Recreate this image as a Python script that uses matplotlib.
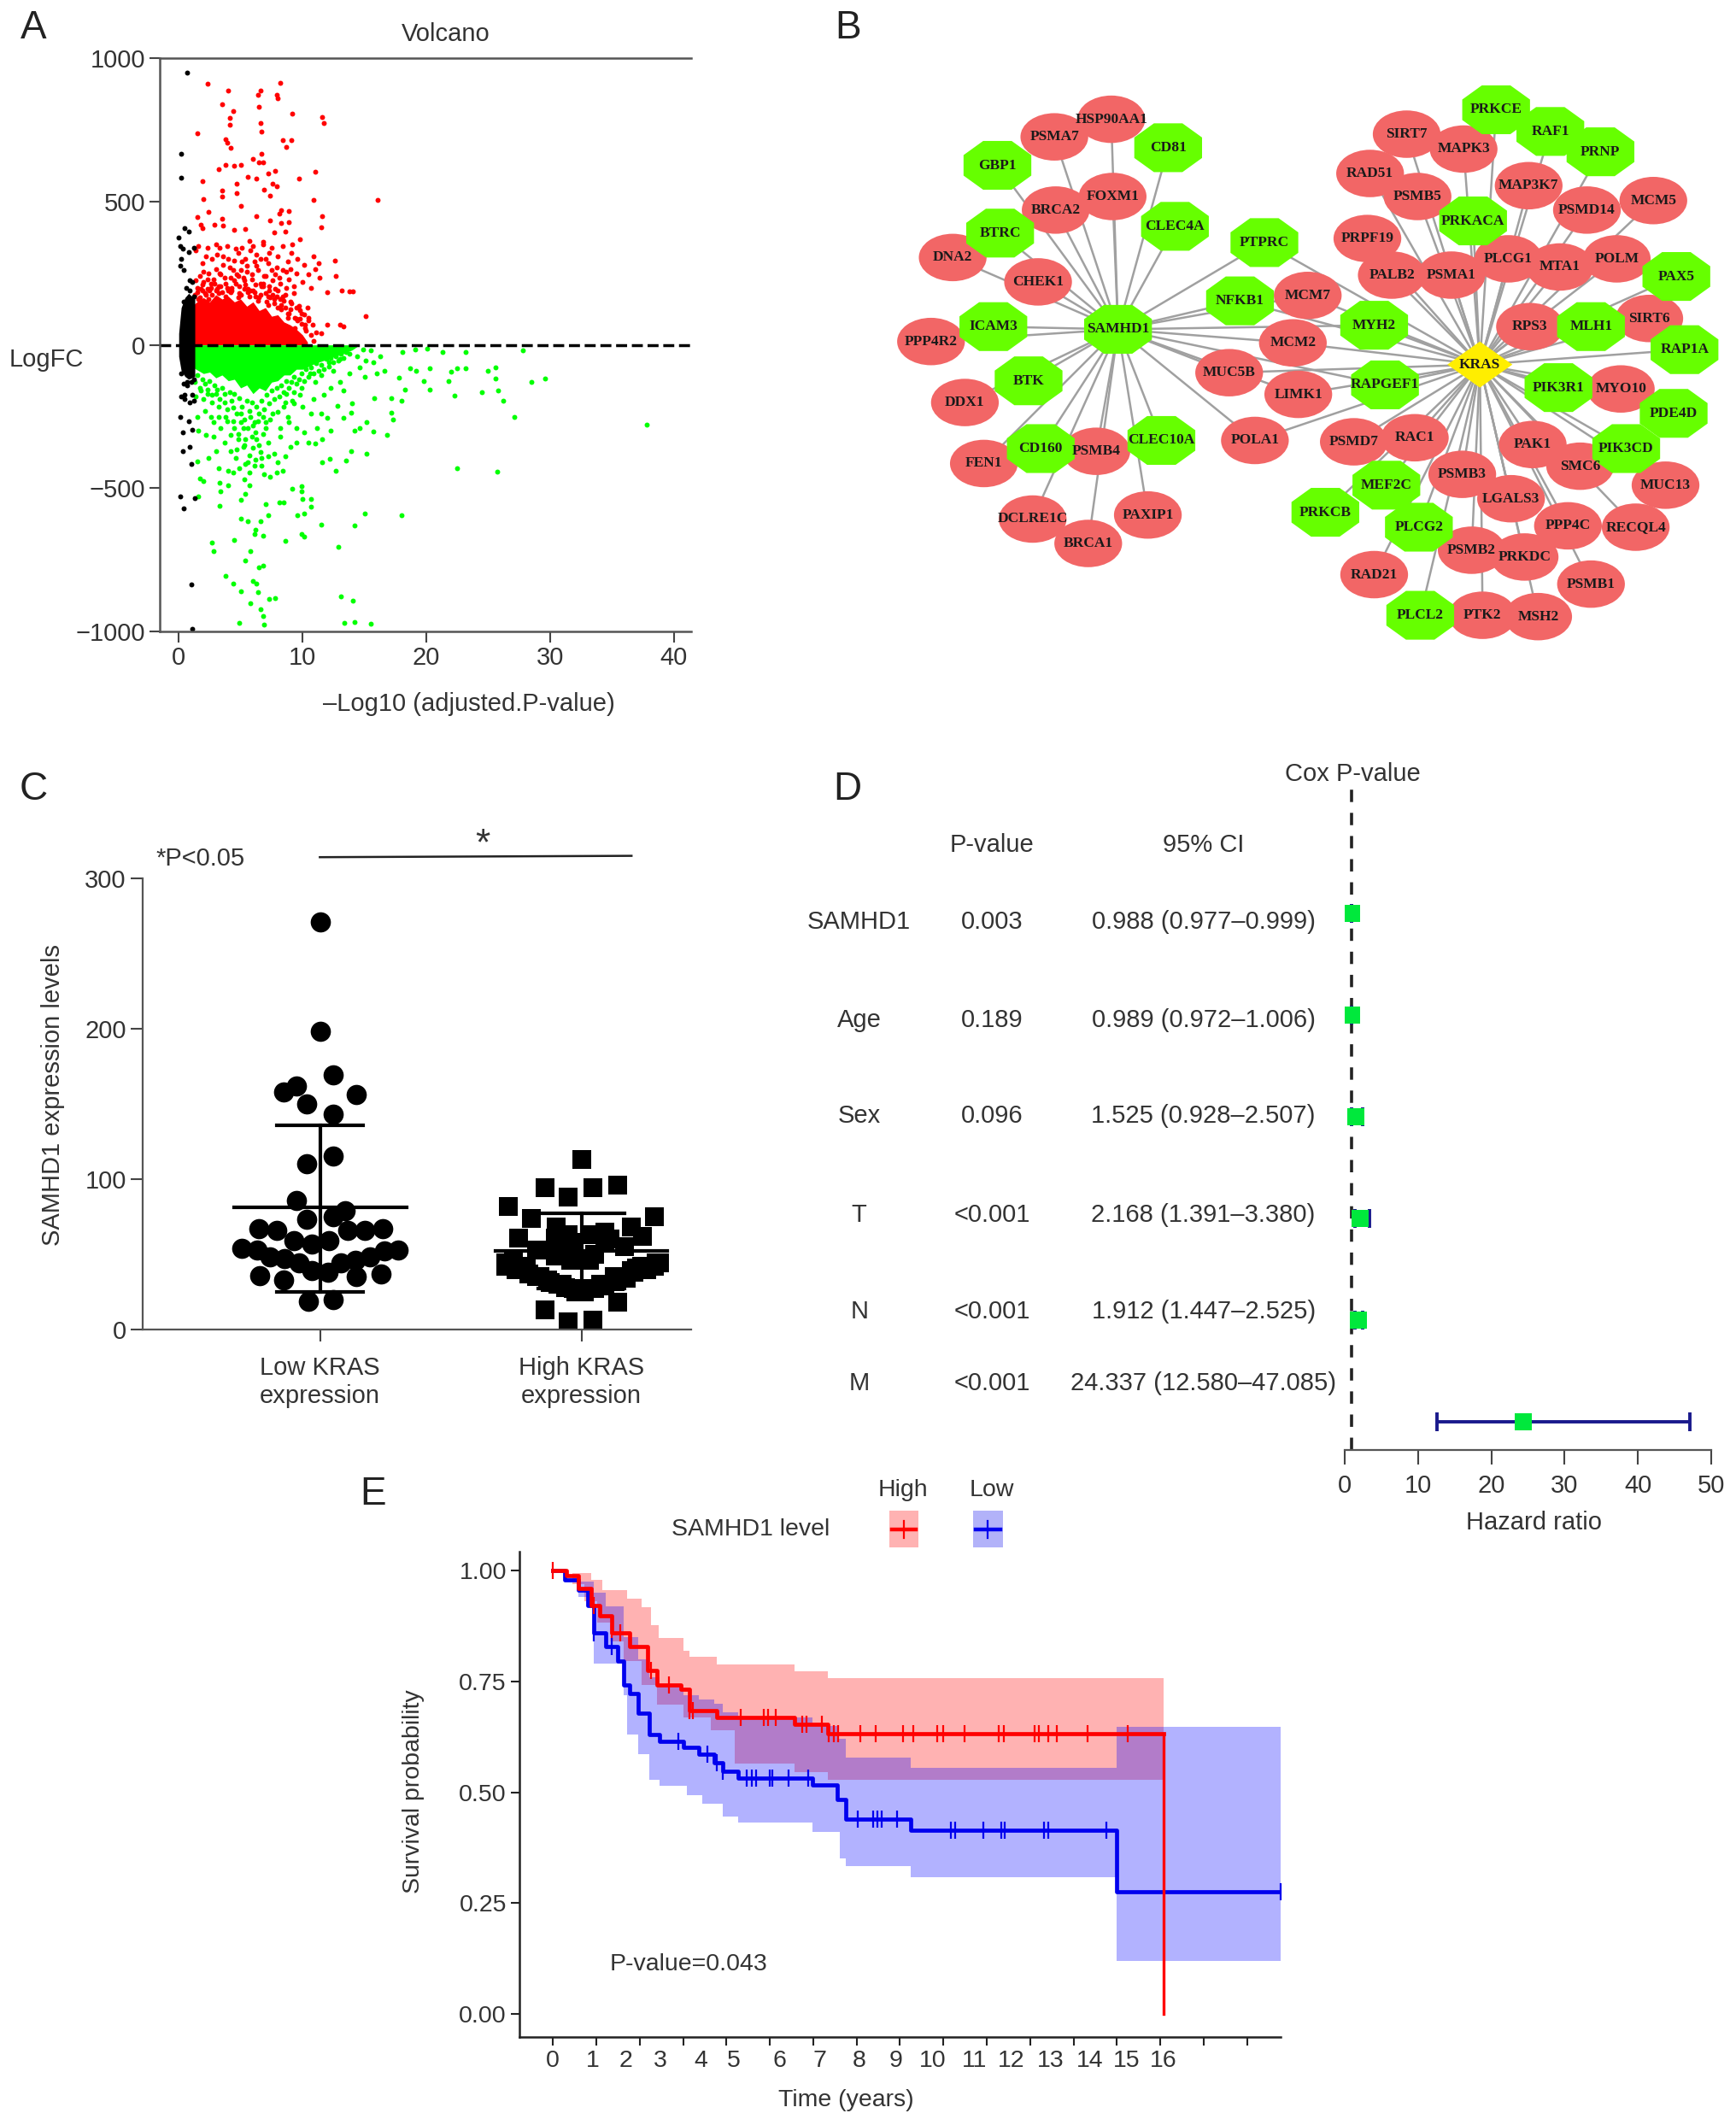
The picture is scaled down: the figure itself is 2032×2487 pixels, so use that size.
import numpy as np
import matplotlib
matplotlib.use('Agg')
import matplotlib.pyplot as plt
from matplotlib.patches import Ellipse, Polygon, Rectangle

plt.rcParams['font.family'] = ['Liberation Sans', 'DejaVu Sans']
plt.rcParams['axes.unicode_minus'] = True

# panel A: volcano
red_x = [2.3,4.0,8.2,6.4,6.6,3.5,7.9,8.0,4.4,6.5,9.2,11.6,11.7,4.1,4.1,6.6,6.7,1.5,3.8,3.9,4.2,8.4,9.1,8.7,6.0,6.7,6.5,6.8,3.8,4.5,5.0,3.2,7.8,11.0,5.6,6.3,7.2,1.9,9.7,7.6,4.7,6.9,7.9,3.5,4.7,3.5,7.4,2.0,10.9,16.1,5.0,8.3,8.1,8.9,2.4,1.5,11.6,6.3,3.5,7.4,8.9,8.3,1.8,1.9,2.9,11.5,3.6,4.5,5.4,7.7,8.6,9.8,9.2,5.7,6.8,
         1.6,1.4,2.2,2.7,1.9,3.3,3.9,4.6,5.1,6.0,6.8,7.5,8.4,9.1,9.6,8.8,10.1,10.9,11.3,12.6,12.7,11.0,10.5,11.4,9.5,8.7,7.9,7.2,6.6,6.1,5.5,5.0,4.5,4.0,3.6,3.0,2.4,1.7,2.0,2.8,3.4,4.2,4.8,5.3,5.9,6.4,7.0,7.6,8.2,8.9,9.3,10.0,10.7,12.0,13.2,13.8,14.1,15.1,13.0,13.3,12.0,11.1,10.9,11.5,10.2,9.9,9.5,9.0,9.8,10.4,8.6,8.0,7.3,6.8,6.2,5.6,4.9,4.3,3.8,3.2,2.6,1.9,1.5,2.3,7.7,8.3,7.2,6.6,10.5,10.8,9.4,8.8,3.0,5.4,6.3,7.3,8.0,3.1,2.3,4.8,5.8,7.0,7.8,8.4,9.0]
red_y = [910,887,915,873,886,840,873,860,815,830,806,796,773,791,768,775,745,737,716,705,688,713,713,692,649,667,636,638,628,625,628,612,608,603,586,579,599,571,579,563,563,541,553,540,530,517,520,510,506,507,484,470,457,468,465,447,449,449,440,435,429,424,419,408,419,409,416,400,403,391,396,370,351,364,359,
         345,330,310,300,285,340,345,335,340,345,350,340,345,320,300,290,280,310,285,295,240,265,245,235,250,255,270,285,300,290,275,260,295,300,280,265,250,240,220,230,245,235,240,225,245,260,240,225,215,230,205,220,200,185,190,188,188,100,70,65,70,45,15,40,60,110,130,150,90,130,175,190,205,215,210,195,205,200,215,205,200,190,200,195,160,140,170,175,85,70,60,110,350,300,315,320,310,315,340,320,330,300,245,260,265]
red_dense_x = [1.3,1.5,1.7,1.9,2.1,2.3,2.5,2.7,2.9,3.1,3.3,3.5,3.7,3.9,4.1,4.3,4.5,4.7,4.9,5.1,5.3,5.5,5.7,5.9,6.1,6.3,6.5,6.7,6.9,7.1,7.3,7.5,7.7,7.9,8.1,8.3,8.5,8.7,8.9,9.1,9.3,9.5,9.7,9.9,10.1,10.3,10.5,10.7,
               1.4,1.8,2.2,2.6,3.0,3.4,3.8,4.2,4.6,5.0,5.4,5.8,6.2,6.6,7.0,7.4,7.8,8.2,8.6,9.0,9.4,9.8,10.2,1.6,2.4,3.2,4.0,4.8,5.6,6.4,7.2,8.0,8.8,9.6,2.0,3.6,5.2,6.8,8.4,4.4,6.0,7.6]
red_dense_y = [175,185,165,210,180,230,190,175,215,195,250,185,235,200,270,190,225,245,180,290,195,255,170,230,185,275,165,205,240,150,190,260,145,170,235,125,155,200,110,145,180,90,135,75,105,50,95,35,
               225,195,175,215,190,205,170,185,215,175,210,190,170,215,180,165,195,160,130,125,95,120,70,160,160,180,190,165,185,155,140,130,95,85,255,310,235,205,170,260,190,175]
red_core_x = [1.2,1.6,2,2.5,3,3.5,4,4.5,5,5.5,6,6.5,7,7.5,8,8.5,9,9.5,10,10.4]
red_core_y = [140,155,165,150,175,160,170,150,160,135,150,120,130,100,105,80,70,55,35,10]

green_x = [37.8,25.7,22.5,27.1,26.2,25.8,25.6,25.6,25.0,24.5,28.5,29.6,27.8,23.2,23.2,22.5,22.0,21.8,22.3,21.3,20.1,20.3,19.8,20.3,19.2,18.7,19.1,18.1,17.8,18.3,18.0,17.2,17.2,17.3,16.8,15.8,14.0,13.9,12.8,13.3,15.2,14.6,14.2,15.7,15.2,13.9,13.5,12.2,11.6,12.7,18.0,15.0,14.2,11.5,12.9,13.1,14.1,13.4,14.2,15.5,10.1,9.9,8.6,9.9,9.9,9.2,10.0,10.7,10.7,10.1,9.6,8.5,8.1,7.0,7.2,6.6,5.6,5.0,6.2,6.1,6.8,5.8,5.4,4.5,2.7,2.8,3.8,4.4,5.0,5.8,6.0,6.3,6.4,6.5,6.8,7.3,7.8,6.6,6.8,6.9,4.9,
           2.2,2.8,3.0,2.4,1.5,1.7,2.0,1.6,3.2,3.3,3.4,3.3,4.0,4.4,4.9,5.4,5.7,5.7,5.4,5.0,4.0,4.6,4.2,3.7,4.8,5.3,5.7,6.2,6.7,6.9,7.4,7.9,8.4,8.0,7.7,8.6,9.0,9.5,7.2,6.5,5.9,6.0,8.2,8.9,9.5,10.1,10.5,11.0,11.6,11.2,12.3,12.0,11.5,10.7,10.0,9.3,8.5,10.9,11.7,12.3,13.0,13.8,14.6,15.1,15.7,16.3,15.5,16.6,15.0,14.4,13.3,12.5,11.0,9.9,1.5,1.6,2.1,2.7,3.2,3.9,4.5,5.2,1.8,2.3,3.0,3.7,4.4,5.0,6.8,7.6,7.0,6.3,8.7,9.3,10.6,11.5,12.1,13.0,13.8,14.9,16.0]
green_y = [-277,-442,-429,-251,-196,-160,-117,-78,-90,-166,-130,-117,-18,-24,-82,-82,-93,-126,-176,-24,-13,-82,-126,-155,-90,-82,-16,-24,-114,-155,-196,-187,-236,-261,-315,-187,-204,-236,-212,-253,-269,-289,-298,-302,-380,-372,-403,-396,-408,-440,-595,-587,-631,-628,-705,-876,-892,-970,-967,-974,-669,-660,-685,-492,-510,-501,-538,-538,-563,-587,-595,-550,-550,-555,-595,-615,-615,-607,-644,-660,-665,-720,-753,-680,-690,-719,-807,-832,-861,-902,-824,-832,-864,-775,-771,-886,-882,-921,-946,-975,-970,
           -315,-320,-370,-395,-405,-465,-475,-530,-430,-480,-510,-560,-440,-445,-430,-415,-445,-490,-520,-540,-490,-395,-370,-340,-330,-350,-385,-400,-420,-450,-460,-445,-440,-410,-380,-390,-355,-340,-340,-350,-320,-280,-290,-270,-290,-305,-340,-345,-330,-290,-300,-255,-240,-240,-215,-205,-215,-190,-175,-150,-130,-100,-80,-55,-60,-40,-20,-90,-110,-40,-160,-90,-130,-150,-250,-300,-230,-200,-250,-265,-290,-290,-160,-170,-170,-200,-220,-240,-250,-240,-290,-330,-170,-165,-100,-105,-60,-50,-30,-15,-100]
green_dense_x = [1.3,1.5,1.7,1.9,2.1,2.3,2.5,2.7,2.9,3.1,3.3,3.5,3.7,3.9,4.1,4.3,4.5,4.7,4.9,5.1,5.3,5.5,5.7,5.9,6.1,6.3,6.5,6.7,6.9,7.1,7.3,7.5,7.7,7.9,8.1,8.3,8.5,8.7,8.9,9.1,9.3,9.5,9.7,9.9,10.1,10.3,10.5,10.7,10.9,11.1,11.3,11.5,11.7,11.9,12.1,12.3,12.5,12.7,12.9,13.1,13.3,13.5,
                 1.4,2.0,2.6,3.2,3.8,4.4,5.0,5.6,6.2,6.8,7.4,8.0,8.6,9.2,9.8,4.8,5.4,6.0,6.6,7.2,5.2,5.8,6.4,7.0,4.2,3.4,2.8,8.2,8.8,5.6,6.1,6.7,5.3,4.7]
green_dense_y = [-130,-105,-150,-120,-135,-155,-125,-175,-140,-155,-190,-150,-170,-225,-165,-195,-170,-240,-185,-215,-260,-195,-230,-200,-270,-215,-240,-195,-225,-175,-205,-160,-190,-150,-180,-140,-165,-125,-150,-130,-110,-135,-120,-100,-125,-85,-110,-80,-100,-65,-90,-70,-85,-50,-75,-45,-60,-40,-55,-30,-45,-25,
                 -180,-190,-250,-215,-250,-265,-270,-290,-305,-310,-260,-235,-200,-195,-175,-310,-330,-360,-375,-390,-355,-250,-265,-270,-315,-290,-270,-320,-250,-410,-420,-395,-470,-365]
green_core_x = [1.2,1.6,2,2.5,3,3.5,4,4.5,5,5.5,6,6.5,7,7.5,8,8.5,9,9.5,10,11,12,13,14,14.5]
green_core_y = [-80,-90,-100,-95,-115,-105,-125,-120,-150,-140,-170,-150,-160,-130,-125,-105,-105,-85,-85,-65,-50,-35,-18,-3]

black_x = [0.7,0.2,0.2,0.5,0.8,0.0,0.1,0.3,1.2,0.8,0.2,0.1,0.4,0.9,1.1,0.6,0.2,0.5,1.1,1.2,0.9,0.1,0.8,1.1,0.3,0.9,0.3,1.0,0.1,1.3,0.4,1.0,1.1,0.7,0.4,0.9,1.2,0.4,1.2,0.2,0.7,1.0,0.5]
black_y = [950,668,583,408,395,375,345,335,340,325,300,275,260,225,220,200,-180,-175,-175,-195,-200,-250,-265,-295,-305,-355,-370,-415,-530,-535,-570,-835,-990,-130,-135,190,170,150,-120,-100,-140,-130,-190]
black_core_x = [0.0,0.2,0.5,0.8,1.3]
black_core_top = [40,130,165,180,160]
black_core_bot = [-40,-90,-110,-120,-110]

# panel B: network, node centres as laid out in the figure
red_nodes = {'HSP90AA1':(820,88),'PSMA7':(778,101),'FOXM1':(821,145),'BRCA2':(779,155),'DNA2':(703,190),'CHEK1':(766,208),
             'MCM7':(965,218),'PPP4R2':(687,252),'MCM2':(954,253),'DDX1':(712,297),'MUC5B':(907,275),'LIMK1':(958,291),
             'POLA1':(926,325),'PSMB4':(809,333),'FEN1':(726,342),'DCLRE1C':(762,383),'PAXIP1':(847,380),'BRCA1':(803,401),
             'SIRT7':(1038,99),'MAPK3':(1080,110),'RAD51':(1011,128),'PSMB5':(1046,145),'MAP3K7':(1128,137),'PSMD14':(1171,155),
             'MCM5':(1220,148),'PRPF19':(1009,176),'PALB2':(1027,203),'PSMA1':(1071,203),'PLCG1':(1113,191),'MTA1':(1151,197),
             'POLM':(1193,191),'RPS3':(1129,241),'SIRT6':(1217,235),'MYO10':(1196,287),'PSMD7':(999,326),'RAC1':(1044,323),
             'PAK1':(1131,328),'SMC6':(1166,344),'MUC13':(1229,358),'PSMB3':(1079,350),'LGALS3':(1115,368),'PPP4C':(1157,388),
             'RECQL4':(1207,389),'PSMB2':(1086,406),'PRKDC':(1125,411),'RAD21':(1014,424),'PSMB1':(1174,431),'PTK2':(1094,454),'MSH2':(1135,455)}
green_nodes = {'CD81':(862,109),'GBP1':(736,122),'CLEC4A':(867,167),'BTRC':(738,172),'PTPRC':(933,179),'SAMHD1':(825,243),
               'NFKB1':(915,222),'ICAM3':(733,241),'MYH2':(1014,240),'BTK':(759,281),'RAPGEF1':(1022,284),'CD160':(768,331),
               'CLEC10A':(857,325),'PRKCE':(1104,81),'RAF1':(1144,97),'PRNP':(1181,112),'PRKACA':(1087,163),'PAX5':(1237,204),
               'MLH1':(1174,241),'RAP1A':(1243,258),'PIK3R1':(1150,286),'PDE4D':(1235,305),'PIK3CD':(1200,331),'MEF2C':(1023,358),
               'PRKCB':(978,378),'PLCG2':(1047,389),'PLCL2':(1048,454)}
kras_pos = (1092, 269)
samhd1_targets = ['HSP90AA1','PSMA7','FOXM1','BRCA2','DNA2','CHEK1','PPP4R2','DDX1','PSMB4','FEN1','DCLRE1C','PAXIP1','BRCA1',
                  'CD81','GBP1','CLEC4A','BTRC','ICAM3','BTK','CD160','CLEC10A']
both_targets = ['PTPRC','NFKB1','MCM7','MCM2','MYH2','MUC5B','LIMK1','RAPGEF1','POLA1']

# panel C: scatter
low_off = [0.0,0.0,0.05,-0.09,-0.14,0.14,-0.05,0.05,0.05,-0.05,-0.09,0.095,0.05,-0.05,-0.235,-0.165,0.17,0.24,0.105,-0.10,0.035,-0.03,-0.30,-0.24,0.30,0.245,-0.19,0.19,-0.135,0.135,-0.08,0.08,-0.03,0.03,-0.23,0.235,-0.14,0.14,-0.045,0.05]
low_val = [271,198,169,162,158,156,150,143,115,110,86,79,75,73,67,66,66,67,66,59,59,57,54,53,53,52,48,48,47,46,44,44,39,38,36,37,33,35,19,20]
high_off = [0.0,-0.14,0.045,0.14,-0.05,-0.28,-0.19,0.28,-0.095,0.19,0.09,-0.05,0.045,0.235,-0.24,0.09,0.165,-0.17,-0.10,-0.04,0.03,-0.29,-0.235,0.285,0.23,0.19,-0.17,-0.12,0.125,0.075,-0.075,-0.03,0.02,0.14,-0.14,-0.05,0.045,-0.29,0.27,-0.21,0.21,
            -0.25,-0.2,-0.16,-0.13,-0.09,-0.06,-0.02,0.01,0.05,0.09,0.13,0.17,0.2,0.25,0.28,0.3,-0.26,-0.03,0.11,-0.1,0.05,-0.01]
high_val = [113,94,94,96,88,82,74,75,68,68,65,63,63,62,61,58,55,53,49,46,46,44,42,44,42,39,35,31,35,30,30,27,27,18,13,5,6,42,42,41,41,
            40,37,35,33,30,28,25,25,27,29,32,34,38,40,42,44,45,58,60,61,50,47]
low_mean, low_sd_top, low_sd_bot = 81, 136, 25
high_mean, high_sd_top, high_sd_bot = 52, 77, 27

# panel D: forest
cox_names = ['SAMHD1','Age','Sex','T','N','M']
cox_p = ['0.003','0.189','0.096','<0.001','<0.001','<0.001']
cox_ci = ['0.988 (0.977\u20130.999)','0.989 (0.972\u20131.006)','1.525 (0.928\u20132.507)','2.168 (1.391\u20133.380)','1.912 (1.447\u20132.525)','24.337 (12.580\u201347.085)']
hr = [0.988,0.989,1.525,2.168,1.912,24.337]
hr_lo = [0.977,0.972,0.928,1.391,1.447,12.580]
hr_hi = [0.999,1.006,2.507,3.380,2.525,47.085]

# panel E: survival
high_t = [0,0.36,0.675,0.99,1.22,1.54,2.01,2.32,2.48,2.72,3.34,3.58,4.29,6.33,7.19,15.97]
high_s = [1,0.990,0.961,0.922,0.898,0.859,0.830,0.830,0.776,0.742,0.732,0.684,0.669,0.653,0.633,0.633]
high_ci_t = [0,0.52,0.99,1.30,1.93,2.32,2.56,2.76,3.42,3.58,4.29,6.33,7.19,15.97]
high_ci_up = [1,0.995,0.98,0.956,0.937,0.917,0.878,0.849,0.82,0.805,0.789,0.773,0.757,0.757]
high_lo_t = [0,0.52,0.83,1.15,1.54,1.85,2.32,2.72,3.42,4.13,4.76,6.33,7.19,15.97]
high_ci_lo = [1,0.97,0.932,0.883,0.84,0.796,0.742,0.698,0.669,0.64,0.565,0.545,0.528,0.528]
low_t = [0,0.3,0.67,0.91,1.07,1.38,1.7,1.85,2.01,2.24,2.53,2.79,3.42,3.81,4.21,4.44,4.84,6.8,7.43,7.66,9.36,14.74,19.04]
low_s = [1,0.98,0.956,0.922,0.859,0.83,0.796,0.742,0.723,0.679,0.63,0.616,0.601,0.587,0.567,0.548,0.533,0.516,0.484,0.439,0.414,0.275,0.275]
low_up_t = [0,0.67,1.07,1.38,1.85,2.24,2.53,2.79,3.42,3.81,4.21,4.44,4.84,6.8,7.43,7.66,9.36,14.74,19.04]
low_ci_up = [1,0.975,0.95,0.92,0.85,0.80,0.76,0.74,0.72,0.71,0.70,0.68,0.67,0.65,0.62,0.578,0.555,0.647,0.647]
low_lo_t = [0,0.67,1.07,1.85,1.93,2.24,2.53,2.79,3.5,3.9,4.44,4.84,6.8,7.5,7.66,9.36,14.74,19.04]
low_ci_lo = [1,0.94,0.79,0.72,0.63,0.587,0.528,0.514,0.494,0.475,0.445,0.431,0.411,0.35,0.334,0.309,0.12,0.12]
high_cens = [0,1.07,1.54,1.77,2.56,3.03,3.58,3.66,4.92,5.51,5.62,5.83,6.52,6.64,7.03,7.22,7.35,7.46,8.05,8.45,9.15,9.42,10.05,10.2,10.77,11.66,11.79,12.61,12.72,12.95,13.19,13.99,15.04]
low_cens = [1.07,1.54,3.27,4.05,4.29,4.44,5.07,5.2,5.31,5.67,5.73,6.17,6.67,7.97,8.37,8.49,8.6,9.0,10.41,10.53,11.27,11.74,11.82,12.84,12.95,14.49,19.04]
year_labels = list(range(17))
year_label_pos = [0,1.03,1.91,2.8,3.87,4.72,5.92,6.99,8.02,8.97,9.93,11.03,11.99,13.01,14.04,15,15.96]
tick_years = [0,1.135,2.27,3.405,4.54,5.675,6.81,7.945,9.08,10.215,11.35,12.485,13.62,14.755,15.89,17.025,18.16]

W, H = 1281.0, 1568.0
TXT = '#333333'
AX = '#444444'
FS = 21
fig = plt.figure(figsize=(20.32, 24.87), dpi=100)


def panel(l, t, r, b):
    return fig.add_axes([l / W, 1 - b / H, (r - l) / W, (b - t) / H])


def step_at(ts, vals, t):
    return vals[np.searchsorted(ts, t, side='right') - 1]


# overlay in shrunk-figure units for letters, free text and the network
ov = fig.add_axes([0, 0, 1, 1], zorder=5)
ov.set_xlim(0, W)
ov.set_ylim(H, 0)
ov.axis('off')
ov.patch.set_alpha(0)


def label(x, y, s, fs=FS, **kw):
    ov.text(x, y + 1.5, s, fontsize=fs, ha='center', va='center', color=TXT, **kw)


for letter, x, y in [('A', 25, 19), ('B', 626, 19), ('C', 25, 581), ('D', 625, 581), ('E', 275, 1101)]:
    ov.text(x, y + 1.5, letter, fontsize=33, ha='center', va='center', color='#222222')

# ---- A
axA = panel(118, 43, 510, 466)
axA.scatter(red_x + red_dense_x, red_y + red_dense_y, s=18, color='#ff0000', linewidths=0)
axA.fill_between(red_core_x, 0, red_core_y, color='#ff0000', linewidth=0)
axA.scatter(green_x + green_dense_x, green_y + green_dense_y, s=18, color='#00ff00', linewidths=0)
axA.fill_between(green_core_x, 0, green_core_y, color='#00ff00', linewidth=0)
axA.scatter(black_x, black_y, s=18, color='black', linewidths=0)
axA.fill_between(black_core_x, black_core_bot, black_core_top, color='black', linewidth=0)
axA.axhline(0, color='black', linestyle='--', linewidth=2.5)
axA.set_xlim(-1.52, 41.4)
axA.set_ylim(-1000, 1000)
axA.set_xticks([0, 10, 20, 30, 40])
axA.set_yticks([-1000, -500, 0, 500, 1000])
axA.tick_params(labelsize=FS, colors=AX, labelcolor=TXT, length=9, width=1.5)
axA.spines['right'].set_visible(False)
for s in ('left', 'top', 'bottom'):
    axA.spines[s].set_color('#555555')
    axA.spines[s].set_linewidth(1.8)
label(329, 24, 'Volcano')
label(34, 264, 'LogFC')
label(346, 518, '\u2013Log10 (adjusted.P-value)')

# ---- B
for name in samhd1_targets + both_targets:
    p = red_nodes.get(name, green_nodes.get(name))
    s = green_nodes['SAMHD1']
    ov.plot([s[0], p[0]], [s[1], p[1]], color='#a0a0a0', lw=1.8, zorder=1)
for name in list(red_nodes) + list(green_nodes):
    if name in samhd1_targets or name == 'SAMHD1':
        continue
    p = red_nodes.get(name, green_nodes.get(name))
    ov.plot([kras_pos[0], p[0]], [kras_pos[1], p[1]], color='#a0a0a0', lw=1.8, zorder=1)

for name, (x, y) in red_nodes.items():
    ov.add_patch(Ellipse((x, y), 50, 35, facecolor='#f26666', edgecolor='none', zorder=2))
oct_a = np.array([1, 0.42, -0.42, -1, -1, -0.42, 0.42, 1])
oct_b = np.array([0.42, 1, 1, 0.42, -0.42, -1, -1, -0.42])
for name, (x, y) in green_nodes.items():
    ov.add_patch(Polygon(np.column_stack([x + 25 * oct_a, y + 18 * oct_b]), closed=True,
                         facecolor='#66ff00', edgecolor='none', zorder=2))
ov.add_patch(Polygon([(kras_pos[0] - 24, kras_pos[1]), (kras_pos[0], kras_pos[1] - 17),
                      (kras_pos[0] + 24, kras_pos[1]), (kras_pos[0], kras_pos[1] + 17)],
                     closed=True, facecolor='#ffee00', edgecolor='none', zorder=2))
for name, (x, y) in list(red_nodes.items()) + list(green_nodes.items()) + [('KRAS', kras_pos)]:
    ov.text(x, y, name, fontsize=12.5, fontweight='bold', family='Liberation Serif',
            ha='center', va='center', color='#1a1a1a', zorder=3)

# ---- C
axC = panel(105, 648, 510, 981)
axC.scatter([1 + o for o in low_off], low_val, s=290, color='black', marker='o', linewidths=0)
axC.scatter([2 + o for o in high_off], high_val, s=250, color='black', marker='s', linewidths=0)
for cx, mean, top, bot in [(1, low_mean, low_sd_top, low_sd_bot), (2, high_mean, high_sd_top, high_sd_bot)]:
    axC.plot([cx - 0.33, cx + 0.33], [mean, mean], color='black', lw=3)
    axC.plot([cx, cx], [bot, top], color='black', lw=3)
    axC.plot([cx - 0.165, cx + 0.165], [top, top], color='black', lw=3)
    axC.plot([cx - 0.165, cx + 0.165], [bot, bot], color='black', lw=3)
axC.set_xlim(0.32, 2.42)
axC.set_ylim(0, 300)
axC.set_yticks([0, 100, 200, 300])
axC.set_xticks([1, 2])
axC.set_xticklabels(['Low KRAS\nexpression', 'High KRAS\nexpression'], linespacing=1.25)
axC.tick_params(labelsize=FS, colors=AX, labelcolor=TXT, length=10, width=1.5)
axC.tick_params(axis='x', pad=12)
for s in ('right', 'top'):
    axC.spines[s].set_visible(False)
for s in ('left', 'bottom'):
    axC.spines[s].set_color('#555555')
    axC.spines[s].set_linewidth(1.6)
ov.plot([236, 466], [632.5, 631.5], color='#222222', lw=1.8)
label(356, 622, '*', fs=32)
label(148, 632, '*P<0.05')
ov.text(39, 808, 'SAMHD1 expression levels', fontsize=FS, rotation=90, ha='center', va='center', color=TXT)

# ---- D
axD = panel(992, 575, 1263, 1070)
rows = np.arange(6)
axD.axvline(1, color='#222222', linestyle=(0, (4, 3.5)), lw=2.6, ymax=0.985)
axD.errorbar(hr, rows, xerr=[np.array(hr) - np.array(hr_lo), np.array(hr_hi) - np.array(hr)], fmt='none',
             ecolor='#1a1a8c', elinewidth=2.8, capsize=8, capthick=2.8)
axD.scatter(hr, rows, marker='s', s=190, color='#00e83c', zorder=3, linewidths=0)
axD.set_xlim(0, 50)
axD.set_ylim(5.28, -1.32)
axD.set_yticks([])
axD.set_xticks([0, 10, 20, 30, 40, 50])
axD.tick_params(labelsize=FS, colors=AX, labelcolor=TXT, length=12, width=1.5, pad=8)
for s in ('left', 'right', 'top'):
    axD.spines[s].set_visible(False)
axD.spines['bottom'].set_color('#555555')
axD.spines['bottom'].set_linewidth(1.6)
axD.patch.set_alpha(0)
row_text_y = [679, 751, 822, 895, 966, 1019]
for name, p, ci, y in zip(cox_names, cox_p, cox_ci, row_text_y):
    label(634, y, name)
    label(732, y, p)
    label(888, y, ci)
label(732, 622, 'P-value')
label(888, 622, '95% CI')
label(998, 570, 'Cox P-value')
label(1132, 1122, 'Hazard ratio')

# ---- E
FE = 20.5
axE = panel(383, 1145, 945, 1503)
grid_t = sorted(set(high_ci_t + high_lo_t))
up = [step_at(high_ci_t, high_ci_up, t) for t in grid_t]
lo = [step_at(high_lo_t, high_ci_lo, t) for t in grid_t]
axE.fill_between(grid_t, lo, up, step='post', color='#ff0000', alpha=0.3, linewidth=0)
grid_t2 = sorted(set(low_up_t + low_lo_t))
up2 = [step_at(low_up_t, low_ci_up, t) for t in grid_t2]
lo2 = [step_at(low_lo_t, low_ci_lo, t) for t in grid_t2]
axE.fill_between(grid_t2, lo2, up2, step='post', color='#0000ff', alpha=0.3, linewidth=0)
axE.step(low_t, low_s, where='post', color='#0000ee', lw=3.4)
axE.step(high_t, high_s, where='post', color='#ff0000', lw=3.4)
axE.plot([high_t[-1], high_t[-1]], [high_s[-1], 0], color='#ff0000', lw=2.4)
cs_high = [step_at(high_t, high_s, t) for t in high_cens]
cs_low = [step_at(low_t, low_s, t) for t in low_cens]
axE.plot(high_cens, cs_high, linestyle='none', marker='|', ms=15, mew=1.6, color='#ff0000', clip_on=False)
axE.plot(low_cens, cs_low, linestyle='none', marker='|', ms=15, mew=1.6, color='#0000ee', clip_on=False)
axE.set_xlim(-0.887, 19.04)
axE.set_ylim(-0.052, 1.043)
axE.set_xticks(tick_years)
axE.set_xticklabels([])
axE.set_yticks([0, 0.25, 0.5, 0.75, 1])
axE.set_yticklabels(['0.00', '0.25', '0.50', '0.75', '1.00'])
axE.tick_params(labelsize=FE, colors='#222222', labelcolor=TXT, length=7, width=1.5)
for s in ('right', 'top'):
    axE.spines[s].set_visible(False)
for s in ('left', 'bottom'):
    axE.spines[s].set_color('#222222')
    axE.spines[s].set_linewidth(1.8)
for lab, x in zip(year_labels, year_label_pos):
    axE.text(x, -0.05, str(lab), transform=axE.get_xaxis_transform(), fontsize=FE, ha='center', va='center',
             color=TXT, clip_on=False)
ov.text(305, 1322, 'Survival probability', fontsize=FE, rotation=90, ha='center', va='center', color=TXT)
label(624, 1548, 'Time (years)', fs=FE)
label(508, 1448, 'P-value=0.043', fs=FE)
label(554, 1127, 'SAMHD1 level', fs=FE)
label(666, 1098, 'High', fs=FE)
label(732, 1098, 'Low', fs=FE)
for x0, col in [(656, '#ff0000'), (718, '#0000ee')]:
    ov.add_patch(Rectangle((x0, 1115), 22, 27, facecolor=col, alpha=0.3, edgecolor='none'))
    ov.plot([x0 + 2, x0 + 20], [1128.5, 1128.5], color=col, lw=3.2)
    ov.plot([x0 + 11, x0 + 11], [1122, 1135], color=col, lw=1.6)

fig.savefig('out.png', dpi=100)
